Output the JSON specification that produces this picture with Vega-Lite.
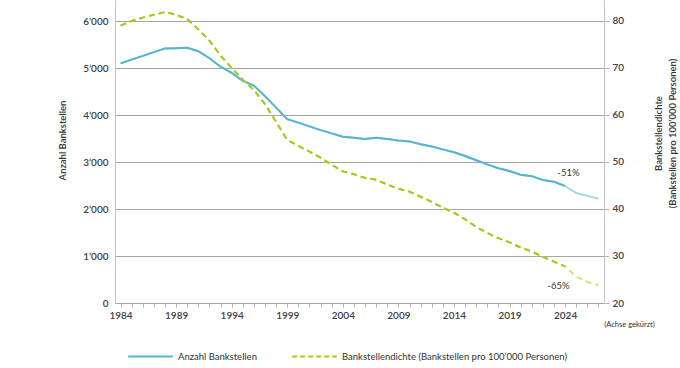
{
  "$schema": "https://vega.github.io/schema/vega-lite/v6.json",
  "autosize": {"type": "none"},
  "padding": {"left": 115, "top": 0, "right": 76, "bottom": 65},
  "width": 489,
  "height": 303,
  "background": "white",
  "config": {
    "font": "Lato",
    "view": {"stroke": null},
    "axis": {"labelFont": "Lato", "titleFont": "Lato", "labelColor": "#404040", "titleColor": "#333333", "labelFontSize": 10}
  },
  "datasets": {
    "series": [
      {"year": 1984, "anzahl": 5100, "dichte": 79.0},
      {"year": 1985, "anzahl": 5180, "dichte": 80.0},
      {"year": 1986, "anzahl": 5260, "dichte": 80.7},
      {"year": 1987, "anzahl": 5340, "dichte": 81.3},
      {"year": 1988, "anzahl": 5420, "dichte": 81.9},
      {"year": 1989, "anzahl": 5425, "dichte": 81.3},
      {"year": 1990, "anzahl": 5432, "dichte": 80.4},
      {"year": 1991, "anzahl": 5360, "dichte": 78.2},
      {"year": 1992, "anzahl": 5210, "dichte": 75.8},
      {"year": 1993, "anzahl": 5030, "dichte": 72.6},
      {"year": 1994, "anzahl": 4900, "dichte": 70.0},
      {"year": 1995, "anzahl": 4730, "dichte": 67.5},
      {"year": 1996, "anzahl": 4630, "dichte": 65.3},
      {"year": 1997, "anzahl": 4400, "dichte": 62.3},
      {"year": 1998, "anzahl": 4160, "dichte": 58.5},
      {"year": 1999, "anzahl": 3915, "dichte": 54.7},
      {"year": 2000, "anzahl": 3840, "dichte": 53.4},
      {"year": 2001, "anzahl": 3760, "dichte": 52.2},
      {"year": 2002, "anzahl": 3680, "dichte": 50.9},
      {"year": 2003, "anzahl": 3610, "dichte": 49.4},
      {"year": 2004, "anzahl": 3540, "dichte": 48.0},
      {"year": 2005, "anzahl": 3520, "dichte": 47.4},
      {"year": 2006, "anzahl": 3490, "dichte": 46.6},
      {"year": 2007, "anzahl": 3520, "dichte": 46.2},
      {"year": 2008, "anzahl": 3490, "dichte": 45.2},
      {"year": 2009, "anzahl": 3460, "dichte": 44.3},
      {"year": 2010, "anzahl": 3440, "dichte": 43.7},
      {"year": 2011, "anzahl": 3380, "dichte": 42.6},
      {"year": 2012, "anzahl": 3330, "dichte": 41.5},
      {"year": 2013, "anzahl": 3270, "dichte": 40.3},
      {"year": 2014, "anzahl": 3210, "dichte": 39.2},
      {"year": 2015, "anzahl": 3130, "dichte": 37.8},
      {"year": 2016, "anzahl": 3040, "dichte": 36.2},
      {"year": 2017, "anzahl": 2950, "dichte": 34.9},
      {"year": 2018, "anzahl": 2870, "dichte": 33.8},
      {"year": 2019, "anzahl": 2810, "dichte": 32.9},
      {"year": 2020, "anzahl": 2730, "dichte": 31.8},
      {"year": 2021, "anzahl": 2700, "dichte": 31.0},
      {"year": 2022, "anzahl": 2620, "dichte": 29.8},
      {"year": 2023, "anzahl": 2580, "dichte": 28.8},
      {"year": 2024, "anzahl": 2490, "dichte": 27.8},
      {"year": 2025, "anzahl": 2340, "dichte": 25.6},
      {"year": 2026, "anzahl": 2280, "dichte": 24.5},
      {"year": 2027, "anzahl": 2225, "dichte": 23.8}
    ],
    "notes": [
      {"year": 2024.3, "anzahl": 2766, "label": "-51%", "axis": "left"},
      {"year": 2023.4, "dichte": 23.6, "label": "-65%", "axis": "right"}
    ]
  },
  "data": {"name": "series"},
  "encoding": {
    "x": {
      "field": "year",
      "type": "quantitative",
      "scale": {"domain": [1983.5, 2027.5], "nice": false, "zero": false},
      "axis": {
        "values": [1984,1985,1986,1987,1988,1989,1990,1991,1992,1993,1994,1995,1996,1997,1998,1999,2000,2001,2002,2003,2004,2005,2006,2007,2008,2009,2010,2011,2012,2013,2014,2015,2016,2017,2018,2019,2020,2021,2022,2023,2024,2025,2026,2027],
        "labelExpr": "(datum.value - 1984) % 5 === 0 ? datum.label : ''",
        "format": "d",
        "labelOverlap": false,
        "labelFlush": false,
        "labelFontWeight": 600,
        "labelPadding": 3,
        "grid": false,
        "tickSize": 4,
        "tickColor": "#b5b5b5",
        "domainColor": "#a6a6a6",
        "title": "(Achse gekürzt)",
        "titleFontSize": 7.5,
        "titleFontWeight": "normal",
        "titleX": 514,
        "titleY": 21,
        "titleAlign": "center",
        "titleBaseline": "middle"
      }
    }
  },
  "layer": [
    {
      "encoding": {
        "y": {
          "field": "anzahl",
          "type": "quantitative",
          "scale": {"domain": [0, 6450], "nice": false},
          "axis": {
            "values": [0, 1000, 2000, 3000, 4000, 5000, 6000],
            "labelExpr": "replace(format(datum.value, ','), ',', '’')",
            "labelPadding": 7,
            "labelFontWeight": 600,
            "ticks": false,
            "grid": true,
            "gridColor": "#a6a6a6",
            "domainColor": "#c4c4c4",
            "title": "Anzahl Bankstellen",
            "titleFontSize": 9.5,
            "titleFontWeight": 600,
            "titleAngle": -90,
            "titleX": -53,
            "titleY": 140,
            "titleAlign": "center",
            "titleBaseline": "middle"
          }
        }
      },
      "layer": [
        {"mark": {"type": "line", "color": "#a3d8e8", "strokeWidth": 2}},
        {
          "transform": [{"filter": "datum.year <= 2024"}],
          "mark": {"type": "line", "strokeWidth": 2},
          "encoding": {
            "color": {
              "datum": "Anzahl Bankstellen",
              "type": "nominal",
              "scale": {
                "domain": ["Anzahl Bankstellen", "Bankstellendichte (Bankstellen pro 100’000 Personen)"],
                "range": ["#55b6cf", "#a6c81e"]
              },
              "legend": {
                "orient": "none",
                "legendX": 12,
                "legendY": 333,
                "direction": "horizontal",
                "title": null,
                "symbolType": "stroke",
                "symbolStrokeWidth": 2,
                "symbolSize": 2000,
                "labelFont": "Lato",
                "labelFontSize": 9.5,
                "labelColor": "#333333",
                "labelLimit": 400,
                "columnPadding": 31,
                "labelOffset": 4,
                "encode": {
                  "symbols": {"update": {"strokeDash": {"signal": "indexof(datum.value, 'dichte') >= 0 ? [5, 3] : [1, 0]"}}}
                }
              }
            }
          }
        },
        {
          "data": {"name": "notes"},
          "transform": [{"filter": "datum.axis === 'left'"}],
          "mark": {"type": "text", "font": "Lato", "fontSize": 9.5, "color": "#333333", "align": "center", "baseline": "middle"},
          "encoding": {"text": {"field": "label"}}
        }
      ]
    },
    {
      "encoding": {
        "y": {
          "field": "dichte",
          "type": "quantitative",
          "scale": {"domain": [20, 84.45], "nice": false, "zero": false},
          "axis": {
            "orient": "right",
            "values": [20, 30, 40, 50, 60, 70, 80],
            "labelPadding": 3,
            "labelFontWeight": 600,
            "tickSize": 5,
            "tickColor": "#b5b5b5",
            "grid": false,
            "domainColor": "#c4c4c4",
            "title": ["Bankstellendichte", "(Bankstellen pro 100’000 Personen)"],
            "titleFontSize": 9.5,
            "titleFontWeight": 600,
            "titleAngle": -90,
            "titleX": 54,
            "titleY": 133,
            "titleAlign": "center",
            "titleBaseline": "middle",
            "titleLineHeight": 14
          }
        }
      },
      "layer": [
        {"mark": {"type": "line", "color": "#cde17c", "strokeWidth": 2, "strokeDash": [6, 4]}},
        {
          "transform": [{"filter": "datum.year <= 2024"}],
          "mark": {"type": "line", "strokeWidth": 2, "strokeDash": [6, 4]},
          "encoding": {
            "color": {"datum": "Bankstellendichte (Bankstellen pro 100’000 Personen)", "type": "nominal"}
          }
        },
        {
          "data": {"name": "notes"},
          "transform": [{"filter": "datum.axis === 'right'"}],
          "mark": {"type": "text", "font": "Lato", "fontSize": 9.5, "color": "#333333", "align": "center", "baseline": "middle"},
          "encoding": {"text": {"field": "label"}}
        }
      ]
    }
  ],
  "resolve": {"scale": {"y": "independent"}}
}
